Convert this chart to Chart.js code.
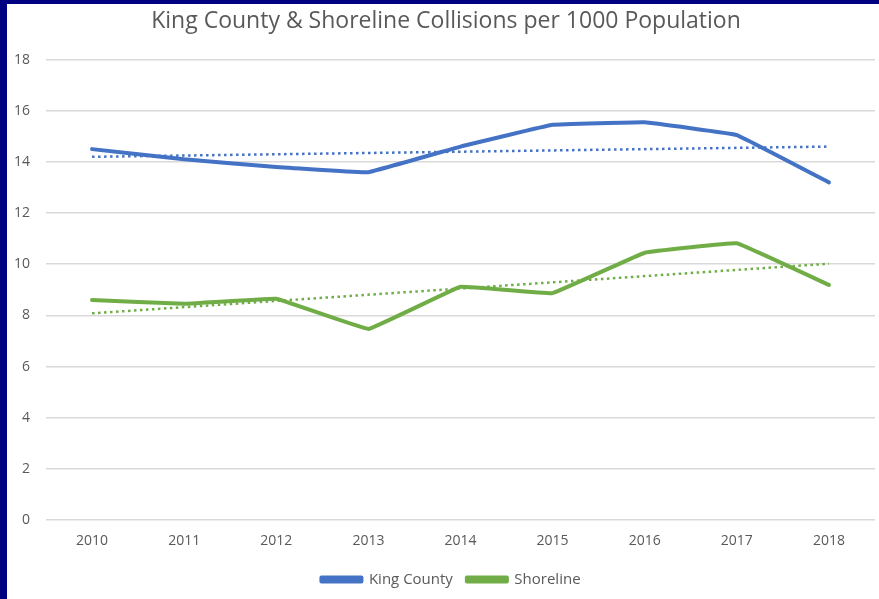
<!DOCTYPE html>
<html>
<head>
<meta charset="utf-8">
<script src="https://cdn.jsdelivr.net/npm/chart.js@4/dist/chart.umd.min.js"></script>
<style>
  html, body { margin: 0; padding: 0; background: #000080; overflow: hidden; }
  #box { position: absolute; left: 7px; top: 4px; width: 872px; height: 595px; background: #fff; }
</style>
</head>
<body>
<div id="box"><canvas id="myChart" width="872" height="595"></canvas></div>
<script>
var years = ["2010", "2011", "2012", "2013", "2014", "2015", "2016", "2017", "2018"];
var kingCounty = [14.5, 14.1, 13.8, 13.6, 14.6, 15.45, 15.55, 15.05, 13.2];
var shoreline = [8.6, 8.45, 8.65, 7.47, 9.12, 8.87, 10.45, 10.82, 9.19];
// trend line end points (first and last year)
var kingTrend = [14.2, null, null, null, null, null, null, null, 14.6];
var shoreTrend = [8.08, null, null, null, null, null, null, null, 10.02];

var blue = '#4472C4';
var green = '#70AD47';
var grey = '#595959';

// nudge the title and legend a bit to the right
var nudge = {
    id: 'nudge',
    afterLayout: function (chart) {
        if (chart.titleBlock) {
            chart.titleBlock.left += 10;
        }
        if (chart.legend) {
            chart.legend.left += 20;
        }
    }
};

var ctx = document.getElementById('myChart').getContext('2d');
var chart = new Chart(ctx, {
    type: 'line',
    data: {
        labels: years,
        datasets: [{
            label: 'King County',
            data: kingCounty,
            borderColor: blue,
            backgroundColor: blue,
            borderWidth: 4,
            pointRadius: 0,
            tension: 0.05,
            borderCapStyle: 'round',
            borderJoinStyle: 'round',
            fill: false
        },
        {
            label: 'Shoreline',
            data: shoreline,
            borderColor: green,
            backgroundColor: green,
            borderWidth: 4,
            pointRadius: 0,
            tension: 0.05,
            borderCapStyle: 'round',
            borderJoinStyle: 'round',
            fill: false
        },
        {
            label: 'trend1',
            data: kingTrend,
            borderColor: blue,
            borderWidth: 2.5,
            borderDash: [2.5, 3.5],
            pointRadius: 0,
            spanGaps: true,
            fill: false
        },
        {
            label: 'trend2',
            data: shoreTrend,
            borderColor: green,
            borderWidth: 2.5,
            borderDash: [2.5, 3.5],
            pointRadius: 0,
            spanGaps: true,
            fill: false
        }]
    },
    plugins: [nudge],
    options: {
        responsive: false,
        animation: false,
        layout: { padding: { left: 0, right: 4, top: 0, bottom: 2 } },
        plugins: {
            title: {
                display: true,
                text: 'King County & Shoreline Collisions per 1000 Population',
                color: grey,
                font: { family: 'Open Sans', size: 23, weight: 'normal' },
                padding: { top: 4, bottom: 24 }
            },
            legend: {
                position: 'bottom',
                labels: {
                    filter: function (item) { return item.datasetIndex < 2; },
                    boxWidth: 40,
                    boxHeight: 4,
                    color: grey,
                    font: { family: 'Open Sans', size: 15 },
                    padding: 14
                }
            },
            tooltip: { enabled: false }
        },
        scales: {
            x: {
                offset: true,
                afterFit: function (scale) { scale.height = 38; },
                grid: { display: false },
                border: { display: false },
                ticks: { color: grey, font: { family: 'Open Sans', size: 14 }, padding: 5 }
            },
            y: {
                min: 0,
                max: 18,
                afterFit: function (scale) { scale.width = 39; },
                ticks: { stepSize: 2, color: grey, font: { family: 'Open Sans', size: 14 }, padding: 16 },
                grid: { color: '#D9D9D9', lineWidth: 1.5, drawTicks: false },
                border: { display: false }
            }
        }
    }
});
</script>
</body>
</html>
